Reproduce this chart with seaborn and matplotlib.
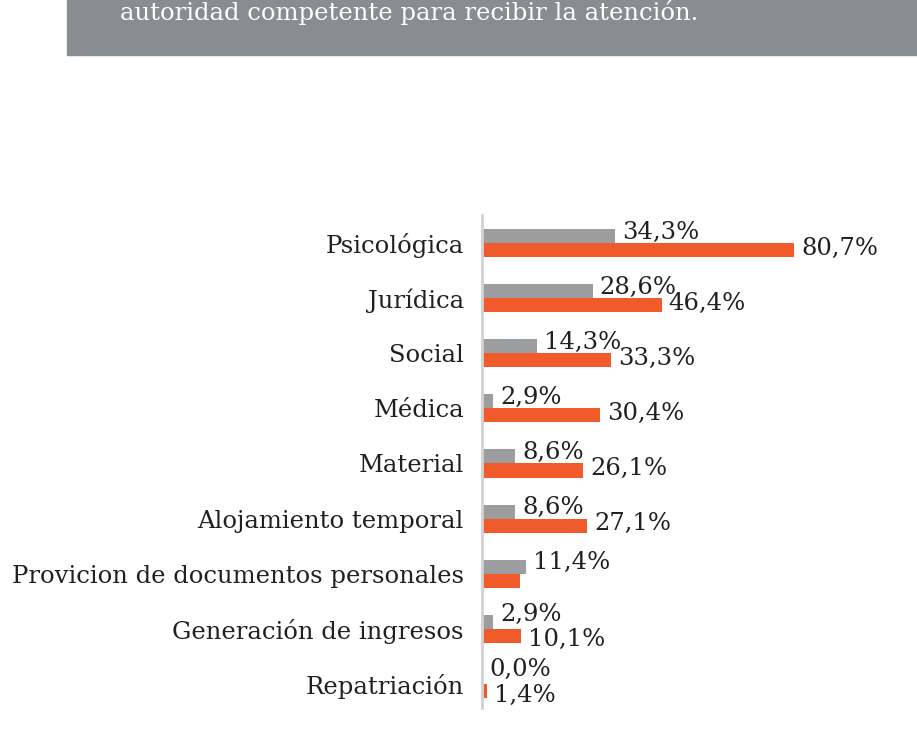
import seaborn as sns
import pandas as pd
import matplotlib.pyplot as plt
from matplotlib.patches import Rectangle

categories = ["Psicológica", "Jurídica", "Social", "Médica", "Material",
              "Alojamiento temporal", "Provicion de documentos personales",
              "Generación de ingresos", "Repatriación"]
gray_values = [34.3, 28.6, 14.3, 2.9, 8.6, 8.6, 11.4, 2.9, 0.0]
orange_values = [80.7, 46.4, 33.3, 30.4, 26.1, 27.1, 9.8, 10.1, 1.4]
gray_labels = ["34,3%", "28,6%", "14,3%", "2,9%", "8,6%", "8,6%", "11,4%", "2,9%", "0,0%"]
orange_labels = ["80,7%", "46,4%", "33,3%", "30,4%", "26,1%", "27,1%", "", "10,1%", "1,4%"]
banner_text = "autoridad competente para recibir la atención."

sns.set_style("white")
plt.rcParams["font.family"] = ["DejaVu Serif"]

df = pd.DataFrame({
    "categoria": categories * 2,
    "valor": gray_values + orange_values,
    "serie": ["a"] * len(categories) + ["b"] * len(categories),
})

fig = plt.figure(figsize=(9.17, 7.44), dpi=100)
ax = fig.add_axes([482 / 917, 36 / 744, 418 / 917, 493 / 744])

sns.barplot(data=df, x="valor", y="categoria", hue="serie", orient="h",
            palette=["#9b9d9e", "#f15a2b"], saturation=1, width=0.51,
            gap=0, linewidth=0, legend=False, ax=ax)

ax.set_xlim(0, 108)
ax.set_ylim(8.436, -0.508)
ax.set_xlabel("")
ax.set_ylabel("")
ax.set_xticks([])
ax.tick_params(axis="y", length=0, pad=13, labelsize=17.5, labelcolor="#231f20")
for s in ["top", "right", "bottom"]:
    ax.spines[s].set_visible(False)
ax.spines["left"].set_color("#d2d2d2")
ax.spines["left"].set_linewidth(2)

gray_bars, orange_bars = ax.containers[0], ax.containers[1]
for i in range(len(categories)):
    # short pairs: spread the two labels apart so they don't collide
    tight = orange_values[i] < 15 and orange_labels[i]
    for bar, lab, dy in [(gray_bars[i], gray_labels[i], 7 if tight else 4),
                         (orange_bars[i], orange_labels[i], -4 if tight else 2)]:
        if not lab:
            continue
        y = bar.get_y() + bar.get_height() / 2
        ax.annotate(lab, (bar.get_width(), y), xytext=(7, dy), textcoords="offset pixels",
                    ha="left", va="center", fontsize=17.5, color="#231f20")

fig.add_artist(Rectangle((67 / 917, 1 - 55 / 744), 1, 55 / 744,
                         transform=fig.transFigure, color="#8a8d8f", zorder=0))
fig.text(120 / 917, 1 - 20 / 744, banner_text, color="white", fontsize=17.5,
         ha="left", va="baseline")

fig.savefig("out.png", dpi=100)
